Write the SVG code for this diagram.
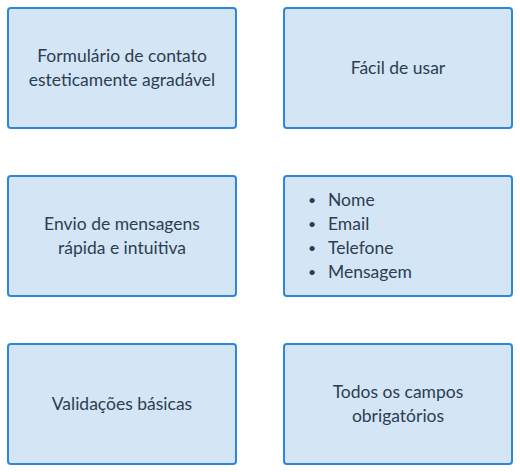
<svg xmlns="http://www.w3.org/2000/svg" width="520" height="472" viewBox="0 0 520 472">
<style>
.box{fill:#d4e5f6;stroke:#2e86de;stroke-width:2}
.t{font-family:Lato,"Noto Sans",sans-serif;font-size:17.5px;fill:#2c3e50;text-anchor:middle;dominant-baseline:central}
.l{font-family:Lato,"Noto Sans",sans-serif;font-size:17.5px;fill:#2c3e50;dominant-baseline:central}
.b{font-family:Lato,"Noto Sans",sans-serif;font-size:14px;fill:#2c3e50;text-anchor:middle;dominant-baseline:central}
</style>
<rect width="520" height="472" fill="#ffffff"/>
<g id="node1"><rect class="box" x="8" y="8" width="228" height="120" rx="3"/>
<text class="t" x="122" y="55">Formulário de contato</text><text class="t" x="122" y="79">esteticamente agradável</text></g>
<g id="node2"><rect class="box" x="284" y="8" width="228" height="120" rx="3"/>
<text class="t" x="398" y="67">Fácil de usar</text></g>
<g id="node3"><rect class="box" x="8" y="176" width="228" height="120" rx="3"/>
<text class="t" x="122" y="223">Envio de mensagens</text><text class="t" x="122" y="247">rápida e intuitiva</text></g>
<g id="node4"><rect class="box" x="284" y="176" width="228" height="120" rx="3"/>
<text class="b" x="312" y="199">•</text><text class="l" x="328" y="199">Nome</text>
<text class="b" x="312" y="223">•</text><text class="l" x="328" y="223">Email</text>
<text class="b" x="312" y="247">•</text><text class="l" x="328" y="247">Telefone</text>
<text class="b" x="312" y="271">•</text><text class="l" x="328" y="271">Mensagem</text></g>
<g id="node5"><rect class="box" x="8" y="344" width="228" height="120" rx="3"/>
<text class="t" x="122" y="403">Validações básicas</text></g>
<g id="node6"><rect class="box" x="284" y="344" width="228" height="120" rx="3"/>
<text class="t" x="398" y="391">Todos os campos</text><text class="t" x="398" y="415">obrigatórios</text></g>
<g id="connectors"></g>
</svg>
